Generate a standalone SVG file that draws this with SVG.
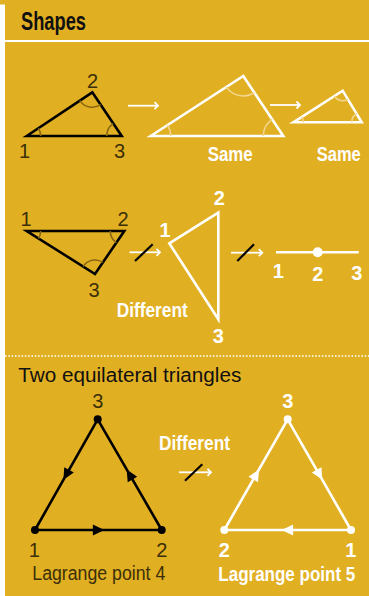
<svg xmlns="http://www.w3.org/2000/svg" width="369" height="596" viewBox="0 0 369 596">
<style>
.bg{fill:#E1AF22}
.tb{fill:none;stroke:#000;stroke-width:2.6;stroke-linejoin:miter}
.tw{fill:none;stroke:#fff;stroke-width:2.6;stroke-linejoin:miter}
.ab{fill:none;stroke:#8a6812;stroke-width:1.6}
.aw{fill:none;stroke:#f2d68e;stroke-width:1.6}
.arr{fill:none;stroke:#fff;stroke-width:1.8}
.slash{stroke:#000;stroke-width:2.2}
.lb{font-family:"Liberation Sans",Arial,sans-serif;font-size:20px;fill:#3b2f08;text-anchor:middle}
.lw{font-family:"Liberation Sans",Arial,sans-serif;font-size:20px;font-weight:bold;fill:#fff;text-anchor:middle}
.tw2{font-family:"Liberation Sans",Arial,sans-serif;font-size:21px;font-weight:bold;fill:#fff}
.reg{font-family:"Liberation Sans",Arial,sans-serif;font-size:20px;fill:#111}
</style>
<defs>
<marker id="chev" viewBox="-5 -5 10 10" refX="0" refY="0" markerWidth="10" markerHeight="10" markerUnits="userSpaceOnUse" orient="auto">
<path d="M-3.5,-3.5 L0,0 L-3.5,3.5" fill="none" stroke="#fff" stroke-width="1.8"/>
</marker>
<marker id="fb" viewBox="-7 -7 14 14" refX="0" refY="0" markerWidth="14" markerHeight="14" markerUnits="userSpaceOnUse" orient="auto">
<path d="M-5.5,-5.5 L6,0 L-5.5,5.5 z" fill="#000"/>
</marker>
<marker id="fw" viewBox="-7 -7 14 14" refX="0" refY="0" markerWidth="14" markerHeight="14" markerUnits="userSpaceOnUse" orient="auto">
<path d="M-5.5,-5.5 L6,0 L-5.5,5.5 z" fill="#fff"/>
</marker>
</defs>
<rect class="bg" x="0" y="0" width="369" height="596"/>
<rect x="0" y="4.5" width="5" height="592" fill="#fff"/>
<text x="21" y="30" font-family="'Liberation Sans',Arial,sans-serif" font-size="25" font-weight="bold" fill="#111" textLength="65" lengthAdjust="spacingAndGlyphs">Shapes</text>
<line x1="5" y1="41" x2="369" y2="41" stroke="#fff" stroke-width="2.2"/>
<line x1="5" y1="356" x2="369" y2="356" stroke="#fff" stroke-width="1.6" stroke-dasharray="1.6 1.7"/>

<g id="connectors">
<line class="arr" x1="128" y1="105.7" x2="158" y2="105.7" marker-end="url(#chev)"/>
<line class="arr" x1="270" y1="105" x2="300" y2="105" marker-end="url(#chev)"/>
<line class="arr" x1="129.5" y1="252.3" x2="160" y2="252.3" marker-end="url(#chev)"/>
<line class="slash" x1="135" y1="261" x2="152.7" y2="244.3"/>
<line class="arr" x1="231" y1="252.7" x2="262.3" y2="252.7" marker-end="url(#chev)"/>
<line class="slash" x1="237.3" y1="261" x2="254" y2="244.3"/>
<line class="arr" x1="179" y1="472.3" x2="211" y2="472.3" marker-end="url(#chev)"/>
<line class="slash" x1="185" y1="480.7" x2="202.3" y2="464.3"/>
</g>

<g id="tri-original">
<path class="tb" d="M26.7,136 L92.3,92.3 L121.7,136 Z"/>
<path class="ab" d="M40.7,136 A14,14 0 0 0 38.35,128.23"/>
<path class="ab" d="M79.8,100.6 A15,15 0 0 0 100.7,104.7"/>
<path class="ab" d="M106.7,136 A15,15 0 0 1 113.3,123.6"/>
<text class="lb" x="92.5" y="87.7">2</text>
<text class="lb" x="24.5" y="158">1</text>
<text class="lb" x="119.5" y="158">3</text>
</g>

<g id="tri-same-1">
<path class="tw" d="M150.7,136 L243.3,76 L283.3,136 Z"/>
<path class="aw" d="M170.7,136 A20,20 0 0 0 167.5,125.1"/>
<path class="aw" d="M226.5,86.9 A20,20 0 0 0 254.4,92.6"/>
<path class="aw" d="M263.3,136 A20,20 0 0 1 272.2,119.4"/>
<text class="tw2" x="207.7" y="161" textLength="45" lengthAdjust="spacingAndGlyphs">Same</text>
</g>

<g id="tri-same-2">
<path class="tw" d="M293.3,122.3 L342.7,90.7 L361.7,122.3 Z"/>
<path class="aw" d="M303.3,122.3 A10,10 0 0 0 301.7,116.9"/>
<path class="aw" d="M334.3,96.1 A10,10 0 0 0 347.85,99.3"/>
<path class="aw" d="M351.7,122.3 A10,10 0 0 1 356.55,113.7"/>
<text class="tw2" transform="translate(316.7,161) scale(0.786,1)" x="0" y="0">Same</text>
</g>

<g id="tri-flipped">
<path class="tb" d="M26.7,231 L124.3,231 L95,274 Z"/>
<path class="ab" d="M40.7,231 A14,14 0 0 1 38.5,238.5"/>
<path class="ab" d="M110.3,231 A14,14 0 0 0 116.4,242.6"/>
<path class="ab" d="M83.2,266.5 A14,14 0 0 1 102.9,262.4"/>
<text class="lb" x="26" y="226">1</text>
<text class="lb" x="123" y="226">2</text>
<text class="lb" x="94" y="296.7">3</text>
</g>

<g id="tri-different">
<path class="tw" d="M169.3,243.3 L218.3,212.7 L218.3,319.3 Z"/>
<text class="lw" x="165" y="236.7">1</text>
<text class="lw" x="219.3" y="205">2</text>
<text class="lw" x="218.3" y="343.3">3</text>
<text class="tw2" x="116.7" y="316.7" textLength="71" lengthAdjust="spacingAndGlyphs">Different</text>
</g>

<g id="line-different">
<line x1="276" y1="252.3" x2="358.7" y2="252.3" stroke="#fff" stroke-width="2.4"/>
<circle cx="317.7" cy="252.3" r="5" fill="#fff"/>
<text class="lw" x="278.3" y="277.7">1</text>
<text class="lw" x="317.7" y="280.7">2</text>
<text class="lw" x="356.7" y="280">3</text>
</g>

<text class="reg" x="18.3" y="382.3" textLength="223" lengthAdjust="spacingAndGlyphs">Two equilateral triangles</text>

<g id="lagrange-4">
<path class="tb" d="M35,530 L98.35,530 L161.7,530" marker-mid="url(#fb)"/>
<path class="tb" d="M161.7,530 L129.7,474.65 L97.7,419.3" marker-mid="url(#fb)"/>
<path class="tb" d="M97.7,419.3 L66.35,474.65 L35,530" marker-mid="url(#fb)"/>
<circle cx="35" cy="530" r="4" fill="#000"/>
<circle cx="161.7" cy="530" r="4" fill="#000"/>
<circle cx="97.7" cy="419.3" r="4" fill="#000"/>
<text class="lb" x="97.7" y="408.3">3</text>
<text class="lb" x="34.3" y="556.7">1</text>
<text class="lb" x="161.7" y="556.7">2</text>
<text x="32.3" y="580" font-family="'Liberation Sans',Arial,sans-serif" font-size="20" fill="#3b2f08" textLength="133" lengthAdjust="spacingAndGlyphs">Lagrange point 4</text>
</g>

<text class="tw2" x="159" y="450" textLength="71" lengthAdjust="spacingAndGlyphs">Different</text>

<g id="lagrange-5">
<path class="tw" d="M351,530 L287.65,530 L224.3,530" marker-mid="url(#fw)"/>
<path class="tw" d="M224.3,530 L256,474.65 L287.7,419.3" marker-mid="url(#fw)"/>
<path class="tw" d="M287.7,419.3 L319.35,474.65 L351,530" marker-mid="url(#fw)"/>
<circle cx="351" cy="530" r="4" fill="#fff"/>
<circle cx="224.3" cy="530" r="4" fill="#fff"/>
<circle cx="287.7" cy="419.3" r="4" fill="#fff"/>
<text class="lw" x="287.7" y="408.3">3</text>
<text class="lw" x="224.3" y="556.7">2</text>
<text class="lw" x="350.7" y="556.7">1</text>
<text transform="translate(218.3,581) scale(0.851,1)" x="0" y="0" font-family="'Liberation Sans',Arial,sans-serif" font-size="20" font-weight="bold" fill="#fff">Lagrange point 5</text>
</g>
</svg>
